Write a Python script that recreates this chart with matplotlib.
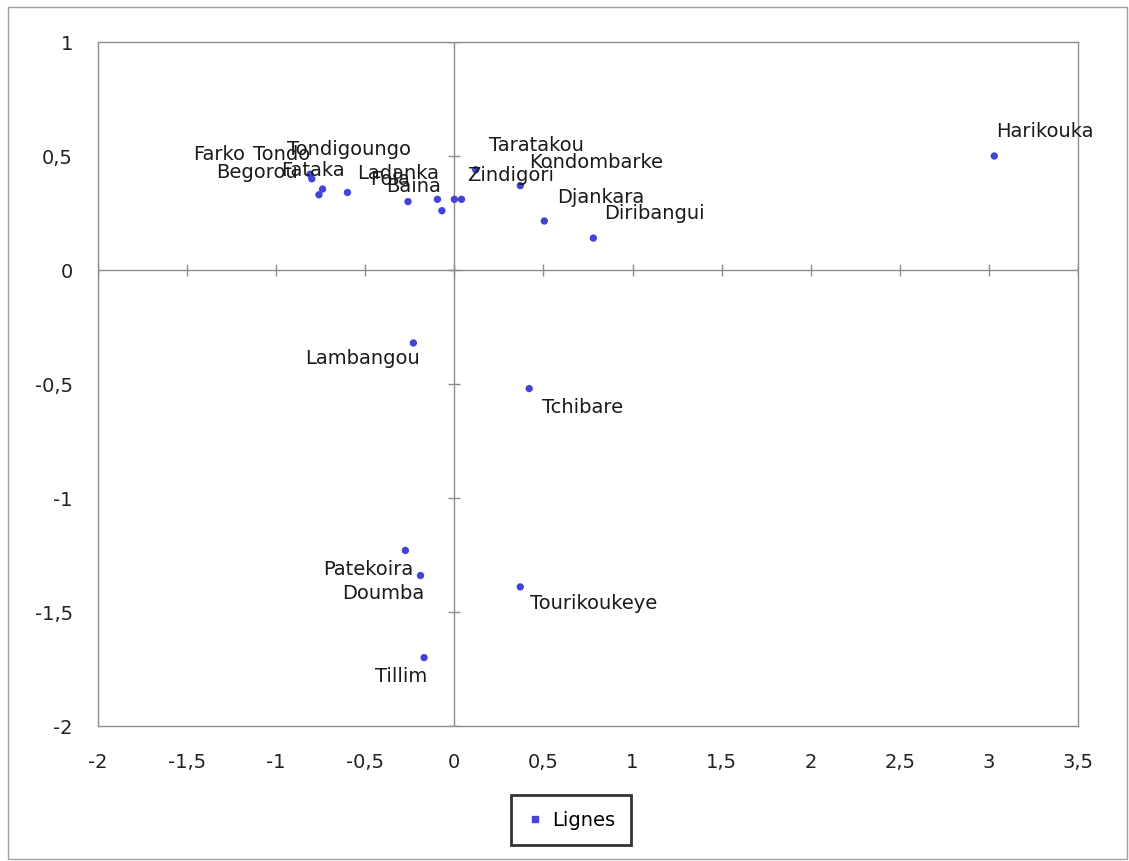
import matplotlib
matplotlib.use("Agg")
import matplotlib.pyplot as plt
from matplotlib.patches import Rectangle
from matplotlib.lines import Line2D

# ---- data ----
names = ["Farko", "Tondo", "Tondigoungo", "Begorou", "Fataka", "Fola", "Ladanka",
         "Baina", "", "Zindigori", "Taratakou", "Kondombarke", "Djankara",
         "Diribangui", "Harikouka", "Lambangou", "Tchibare", "Patekoira",
         "Doumba", "Tourikoukeye", "Tillim"]
xs = [-0.81, -0.80, -0.76, -0.74, -0.60, -0.26, -0.095, -0.07, 0.00, 0.04, 0.12,
      0.37, 0.505, 0.78, 3.03, -0.23, 0.42, -0.275, -0.19, 0.37, -0.17]
ys = [0.42, 0.40, 0.33, 0.355, 0.34, 0.30, 0.31, 0.26, 0.31, 0.31, 0.44,
      0.37, 0.215, 0.14, 0.50, -0.32, -0.52, -1.23, -1.34, -1.39, -1.70]
# label offsets in pixels (dx, dy, horizontal alignment)
offsets = [(-65, 21, "right"), (-2, 25, "right"), (92, 46, "right"), (-25, 18, "right"),
           (-3, 23, "right"), (2, 23, "right"), (2, 27, "right"), (-1, 25, "right"),
           (0, 0, "left"), (6, 25, "left"), (13, 25, "left"), (9, 24, "left"),
           (13, 24, "left"), (11, 26, "left"), (2, 25, "left"), (6, -15, "right"),
           (13, -18, "left"), (8, -18, "right"), (4, -17, "right"), (10, -16, "left"),
           (3, -18, "right")]
xticks = [-2, -1.5, -1, -0.5, 0, 0.5, 1, 1.5, 2, 2.5, 3, 3.5]
yticks = [-2, -1.5, -1, -0.5, 0, 0.5, 1]
series_name = "Lignes"

def fmt(v):
    s = ("%g" % v).replace(".", ",")
    return s

plt.rcParams['font.family'] = ['DejaVu Sans']
fig = plt.figure(figsize=(11.29, 8.62), dpi=100)
fig.patches.append(Rectangle((8/1129, 2/862), 1119/1129, 852/862, transform=fig.transFigure,
                             fill=False, edgecolor="#a0a0a0", lw=1.0))
ax = fig.add_axes([98/1129, 1 - 727/862, 980/1129, 684/862])
ax.set_xlim(-2, 3.5)
ax.set_ylim(-2, 1)
for s in ax.spines.values():
    s.set_color("#8c8c8c")
    s.set_linewidth(1.0)
ax.set_xticks(xticks)
ax.set_yticks(yticks)
ax.set_xticklabels([fmt(v) for v in xticks], fontsize=14, color="#222222")
ax.set_yticklabels([fmt(v) for v in yticks], fontsize=14, color="#222222")
ax.tick_params(axis="x", length=0, pad=19)
ax.tick_params(axis="y", length=0, pad=18)

# axis lines through origin with small tick marks
ax.axhline(0, color="#8c8c8c", lw=1.0, zorder=1)
ax.axvline(0, color="#8c8c8c", lw=1.0, zorder=1)
ax.plot(xticks, [0] * len(xticks), linestyle="none", marker="|", markersize=8,
        color="#8c8c8c", zorder=1)
ax.plot([0] * len(yticks), yticks, linestyle="none", marker="_", markersize=8,
        color="#8c8c8c", zorder=1)

ax.scatter(xs, ys, s=28, color="#4343d6", edgecolors="none", zorder=3, label=series_name)
for n, x, y, (dx, dy, ha) in zip(names, xs, ys, offsets):
    if n:
        ax.annotate(n, (x, y), xytext=(dx, dy), textcoords="offset pixels",
                    ha=ha, va="center", fontsize=14, color="#1a1a1a", zorder=4)

handle = Line2D([], [], linestyle="none", marker="s", markersize=5, color="#4343d6")
leg = fig.legend([handle], [series_name], loc="center", bbox_to_anchor=(571/1129, 1 - 821/862),
                 frameon=True, fancybox=False, fontsize=14, handlelength=0.8,
                 handletextpad=0.5, borderpad=0.8)
leg.get_frame().set_edgecolor("black")
leg.get_frame().set_linewidth(2.0)

fig.savefig("out.png", dpi=100)
